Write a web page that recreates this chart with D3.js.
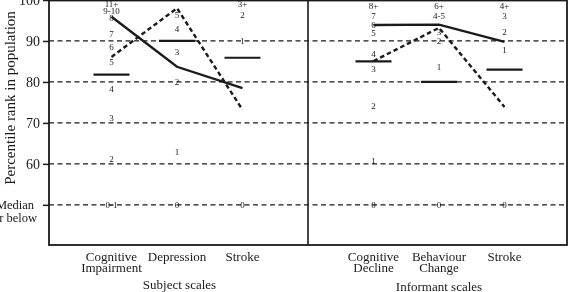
<!DOCTYPE html>
<html>
<head>
<meta charset="utf-8">
<script src="https://cdn.jsdelivr.net/npm/d3@7.9.0/dist/d3.min.js"></script>
<style>
  body { margin: 0; background: #fff; }
  svg { display: block; font-family: "Liberation Serif", "Times New Roman", serif; will-change: transform; -webkit-font-smoothing: antialiased; }
</style>
</head>
<body>
<svg width="571" height="292"></svg>
<script>
// percentile grid
const yTicks = [100, 90, 80, 70, 60, 50];
const yTickLabels = ['100', '90', '80', '70', '60', 'Median'];

const subjectCats = ['Cognitive Impairment', 'Depression', 'Stroke'];
const informantCats = ['Cognitive Decline', 'Behaviour Change', 'Stroke'];
const catLines = [['Cognitive', 'Impairment'], ['Depression'], ['Stroke'], ['Cognitive', 'Decline'], ['Behaviour', 'Change'], ['Stroke']];

// median of each scale (horizontal bars)
const subjectMedian = [81.8, 90, 85.9];
const informantMedian = [85, 80, 83];

// the two groups (solid / dashed)
const subjectSolid = [95.9, 83.7, 78.5];
const subjectDashed = [86.1, 98.0, 73.2];
const informantSolid = [93.9, 94.0, 89.8];
const informantDashed = [85.1, 93.2, 73.9];

// scale scores and their percentile position
const ciScores = [['11+', 99.0], ['9-10', 97.3], ['8', 95.7], ['7', 91.7], ['6', 88.5], ['5', 84.9], ['4', 78.3], ['3', 71.2], ['2', 61.2], ['0-1', 50]];
const depScores = [['5', 96.3], ['4', 92.9], ['3', 87.3], ['2', 80], ['1', 62.9], ['0', 50]];
const strokeSScores = [['3+', 99.0], ['2', 96.3], ['1', 90], ['0', 50]];
const cdScores = [['8+', 98.5], ['7', 96.1], ['6', 93.9], ['5', 92.0], ['4', 86.8], ['3', 83.2], ['2', 74.1], ['1', 60.8], ['0', 50]];
const bcScores = [['6+', 98.5], ['4-5', 96.1], ['3', 92.2], ['2', 90], ['1', 83.7], ['0', 50]];
const strokeIScores = [['4+', 98.5], ['3', 96.1], ['2', 92.2], ['1', 87.8], ['0', 50]];

const svg = d3.select('svg');
const ink = '#1a1a1a';
const pLeft = 49, pRight = 567, pTop = 0, pBottom = 245, pMid = 308;

const y = d3.scaleLinear().domain([100, 40.2]).range([pTop, pBottom]);
const xS = d3.scalePoint().domain(subjectCats).range([46, pMid]).padding(1);
const xI = d3.scalePoint().domain(informantCats).range([pMid, 570]).padding(1);

// grid lines
svg.append('g').selectAll('line')
  .data(yTicks.slice(1))
  .join('line')
  .attr('x1', pLeft).attr('x2', pRight)
  .attr('y1', (d) => y(d)).attr('y2', (d) => y(d))
  .attr('stroke', ink).attr('stroke-width', 1.2)
  .attr('stroke-dasharray', '5,3.5');

// y axis
const yAxis = d3.axisLeft(y).tickValues(yTicks).tickSize(6).tickFormat((d, i) => yTickLabels[i]);
const ga = svg.append('g').attr('transform', `translate(${pLeft},0)`).call(yAxis);
ga.select('.domain').remove();
ga.selectAll('line').attr('stroke', ink).attr('stroke-width', 1.5);
ga.selectAll('text')
  .attr('font-size', 14).attr('fill', ink)
  .attr('font-family', '"Liberation Serif", serif')
  .attr('x', -9);
ga.selectAll('.tick').filter((d) => d === 50).select('text')
  .attr('text-anchor', 'middle').attr('x', 15 - pLeft).attr('font-size', 12.5)
  .call((t) => t.append('tspan').attr('x', 15 - pLeft).attr('dy', 13).text('or below'));

// frame
svg.append('rect')
  .attr('x', pLeft).attr('y', pTop + 0.5)
  .attr('width', pRight - pLeft).attr('height', pBottom - pTop - 0.5)
  .attr('fill', 'none').attr('stroke', ink).attr('stroke-width', 1.8);
svg.append('line')
  .attr('x1', pMid).attr('x2', pMid).attr('y1', pTop).attr('y2', pBottom)
  .attr('stroke', ink).attr('stroke-width', 1.6);

// y title
svg.append('text')
  .attr('transform', 'translate(15,98) rotate(-90)')
  .attr('text-anchor', 'middle')
  .attr('font-size', 15).attr('fill', ink)
  .text('Percentile rank in population');

function panel(x, cats, scores, medians, solid, dashed) {
  const g = svg.append('g');
  cats.forEach((c, i) => {
    g.append('g').selectAll('text')
      .data(scores[i])
      .join('text')
      .attr('x', x(c)).attr('y', (d) => y(d[1]))
      .attr('dy', '0.35em')
      .attr('text-anchor', 'middle')
      .attr('font-size', 9).attr('fill', ink)
      .text((d) => d[0]);
  });
  g.append('g').selectAll('line')
    .data(medians)
    .join('line')
    .attr('x1', (d, i) => x(cats[i]) - 18).attr('x2', (d, i) => x(cats[i]) + 18)
    .attr('y1', (d) => y(d)).attr('y2', (d) => y(d))
    .attr('stroke', ink).attr('stroke-width', 2.2);
  const line = d3.line().x((d, i) => x(cats[i])).y((d) => y(d));
  g.append('path').attr('d', line(solid))
    .attr('fill', 'none').attr('stroke', ink).attr('stroke-width', 2.4);
  g.append('path').attr('d', line(dashed))
    .attr('fill', 'none').attr('stroke', ink).attr('stroke-width', 2.4)
    .attr('stroke-dasharray', '4.5,3');
}

panel(xS, subjectCats, [ciScores, depScores, strokeSScores], subjectMedian, subjectSolid, subjectDashed);
panel(xI, informantCats, [cdScores, bcScores, strokeIScores], informantMedian, informantSolid, informantDashed);

// category labels
const allX = subjectCats.map((c) => xS(c)).concat(informantCats.map((c) => xI(c)));
catLines.forEach((lines, i) => {
  const t = svg.append('text')
    .attr('text-anchor', 'middle').attr('font-size', 13).attr('fill', ink);
  lines.forEach((l, j) => {
    t.append('tspan').attr('x', allX[i]).attr('y', 261 + j * 11).text(l);
  });
});

svg.append('text').attr('x', (pLeft + pMid) / 2 + 1).attr('y', 289)
  .attr('text-anchor', 'middle').attr('font-size', 13).attr('fill', ink)
  .text('Subject scales');
svg.append('text').attr('x', xI('Behaviour Change')).attr('y', 291)
  .attr('text-anchor', 'middle').attr('font-size', 13).attr('fill', ink)
  .text('Informant scales');
</script>
</body>
</html>
